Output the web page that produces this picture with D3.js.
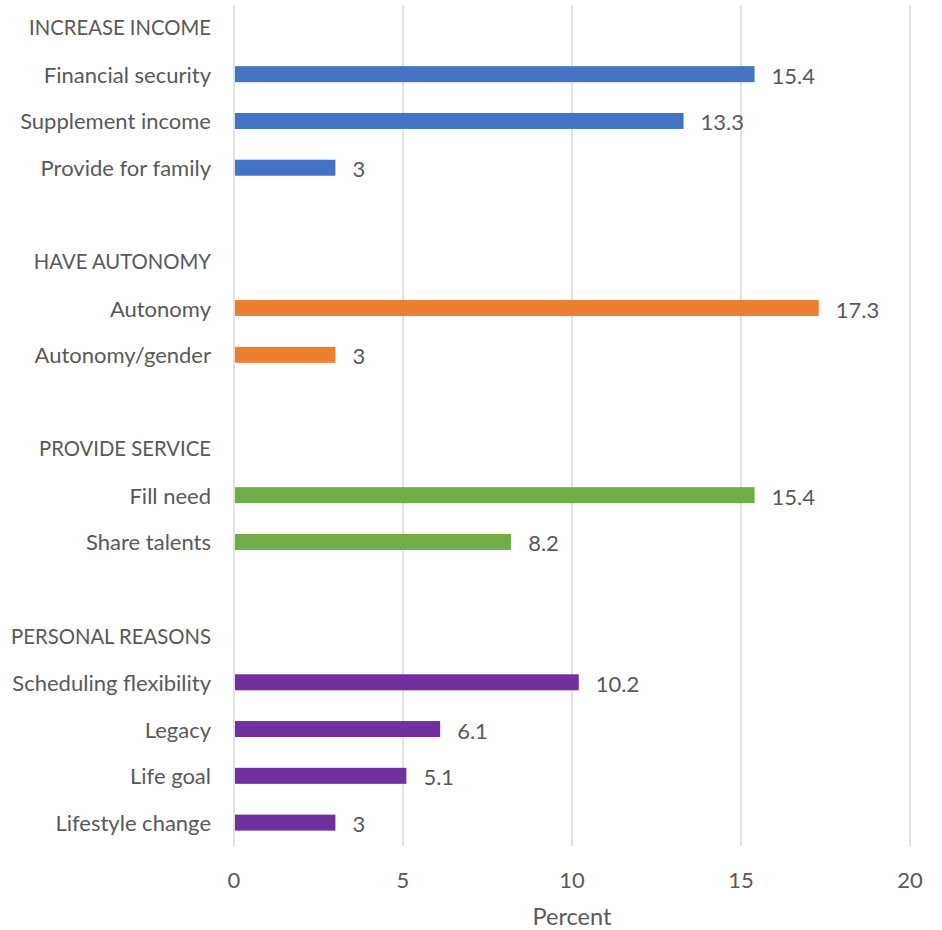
<!DOCTYPE html>
<html>
<head>
<meta charset="utf-8">
<script src="https://cdn.jsdelivr.net/npm/d3@7"></script>
<style>
  html, body { margin: 0; padding: 0; background: #fff; }
  svg text { font-family: Lato, "Open Sans", sans-serif; fill: #595959; }
</style>
</head>
<body>
<svg id="chart" width="942" height="930"></svg>
<script>
// Motivation groups and their reasons (percent of respondents)
const groups = ["INCREASE INCOME", "HAVE AUTONOMY", "PROVIDE SERVICE", "PERSONAL REASONS"];
const groupColors = ["#4472C4", "#ED7D31", "#70AD47", "#7030A0"];
const reasons = [
  ["Financial security", "Supplement income", "Provide for family"],
  ["Autonomy", "Autonomy/gender"],
  ["Fill need", "Share talents"],
  ["Scheduling flexibility", "Legacy", "Life goal", "Lifestyle change"]
];
const values = [
  [15.4, 13.3, 3],
  [17.3, 3],
  [15.4, 8.2],
  [10.2, 6.1, 5.1, 3]
];
const xTicks = [0, 5, 10, 15, 20];
const xTitle = "Percent";

// Flatten into rows: header, reasons, then a spacer between groups
const rows = [];
groups.forEach((g, gi) => {
  rows.push({ id: "h" + gi, label: g, type: "header" });
  reasons[gi].forEach((r, ri) => {
    rows.push({ id: "r" + gi + "_" + ri, label: r, type: "bar", value: values[gi][ri], color: groupColors[gi] });
  });
  if (gi < groups.length - 1) rows.push({ id: "s" + gi, label: "", type: "spacer" });
});

const svg = d3.select("#chart");
const plot = { left: 234, right: 910, top: 4, bottom: 846 };

const x = d3.scaleLinear().domain([0, 20]).range([plot.left, plot.right]);
const y = d3.scaleBand().domain(rows.map(d => d.id)).range([plot.top, plot.bottom]).padding(0);
const barH = 16;

// Vertical gridlines
svg.append("g").selectAll("line").data(xTicks).join("line")
  .attr("x1", d => x(d)).attr("x2", d => x(d))
  .attr("y1", plot.top + 1).attr("y2", plot.bottom)
  .attr("stroke", "#d9d9d9").attr("stroke-width", 1.5);

// Bottom tick labels
svg.append("g").selectAll("text").data(xTicks).join("text")
  .attr("x", d => x(d)).attr("y", 879)
  .attr("text-anchor", "middle").attr("dominant-baseline", "central")
  .style("font-size", "22px")
  .text(d => d);

svg.append("text")
  .attr("x", (plot.left + plot.right) / 2).attr("y", 916)
  .attr("text-anchor", "middle").attr("dominant-baseline", "central")
  .style("font-size", "23.5px")
  .text(xTitle);

// Category labels (group headers in caps are set slightly smaller)
svg.append("g").selectAll("text").data(rows.filter(d => d.label)).join("text")
  .attr("x", 211)
  .attr("y", d => y(d.id) + y.bandwidth() / 2)
  .attr("text-anchor", "end").attr("dominant-baseline", "central")
  .style("font-size", d => d.type === "header" ? "20.3px" : "22px")
  .text(d => d.label);

const bars = rows.filter(d => d.type === "bar");

svg.append("g").selectAll("rect").data(bars).join("rect")
  .attr("x", x(0) + 1)
  .attr("y", d => y(d.id) + y.bandwidth() / 2 - barH / 2)
  .attr("width", d => x(d.value) - x(0) - 1)
  .attr("height", barH)
  .attr("fill", d => d.color);

// Value labels
svg.append("g").selectAll("text").data(bars).join("text")
  .attr("x", d => x(d.value) + 17)
  .attr("y", d => y(d.id) + y.bandwidth() / 2 + 1)
  .attr("dominant-baseline", "central")
  .style("font-size", "22px")
  .text(d => d.value);
</script>
</body>
</html>
